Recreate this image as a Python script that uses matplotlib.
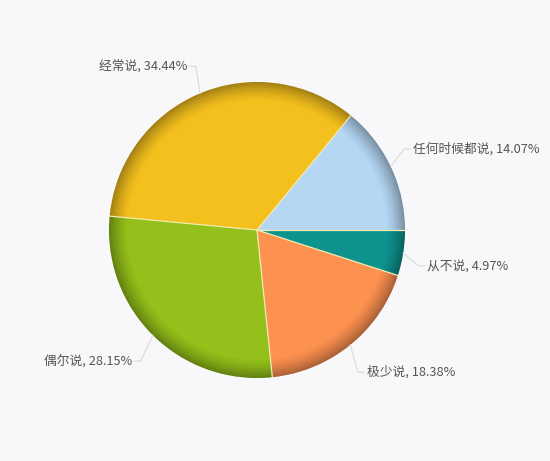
import matplotlib
matplotlib.use("Agg")
import matplotlib.pyplot as plt
from matplotlib.patches import Wedge
import numpy as np

plt.rcParams['font.family'] = ['Noto Sans CJK SC', 'DejaVu Sans']

categories = ['任何时候都说', '经常说', '偶尔说', '极少说', '从不说']
values = [14.07, 34.44, 28.15, 18.38, 4.97]
colors = ['#b5d7f4', '#f4c01e', '#93c01a', '#fd9150', '#0e938f']

# label anchor (text) offsets in data units (radius = 1)
label_pos = [(1.054, 0.547, 'left'), (-0.473, 1.105, 'right'),
             (-0.845, -0.885, 'right'), (0.743, -0.962, 'left'),
             (1.152, -0.243, 'left')]

bg = '#f8f8fa'
fig = plt.figure(figsize=(5.5, 4.61), dpi=100, facecolor=bg)
ax = fig.add_axes([109 / 550, 83 / 461, 296 / 550, 296 / 461])
ax.set_facecolor(bg)
ax.axis('off')

wedges, _ = ax.pie(values, colors=colors, startangle=0, counterclock=True,
                   radius=1, center=(0, 0), frame=False,
                   wedgeprops=dict(edgecolor='none', linewidth=0))
ax.set_xlim(-1, 1)
ax.set_ylim(-1, 1)
ax.set_aspect('equal')

# bevel shading near the rim
n = 16
for i in range(n):
    r_out = 1 - i * 0.008
    a = 0.34 * (1 - i / n) ** 1.5
    ax.add_patch(Wedge((0, 0), r_out, 0, 360, width=0.008,
                       facecolor='black', alpha=a, edgecolor='none'))

# separators
for w in wedges:
    t = np.deg2rad(w.theta1)
    ax.plot([0, np.cos(t)], [0, np.sin(t)], color='#f3eab0', lw=0.9)

# labels with leader lines
for w, cat, val, (tx, ty, ha) in zip(wedges, categories, values, label_pos):
    mid = np.deg2rad((w.theta1 + w.theta2) / 2)
    ex, ey = np.cos(mid), np.sin(mid)
    bx = tx - 0.06 if ha == 'left' else tx + 0.06
    ax.plot([ex, bx, tx - 0.02 if ha == 'left' else tx + 0.02],
            [ey, ty, ty], color='#dcdcdc', lw=0.9, clip_on=False)
    ax.text(tx, ty, f'{cat}, {val:.2f}%', ha=ha, va='center',
            fontsize=9.2, color='#555555', clip_on=False)

fig.savefig('out.png', dpi=100, facecolor=bg)
